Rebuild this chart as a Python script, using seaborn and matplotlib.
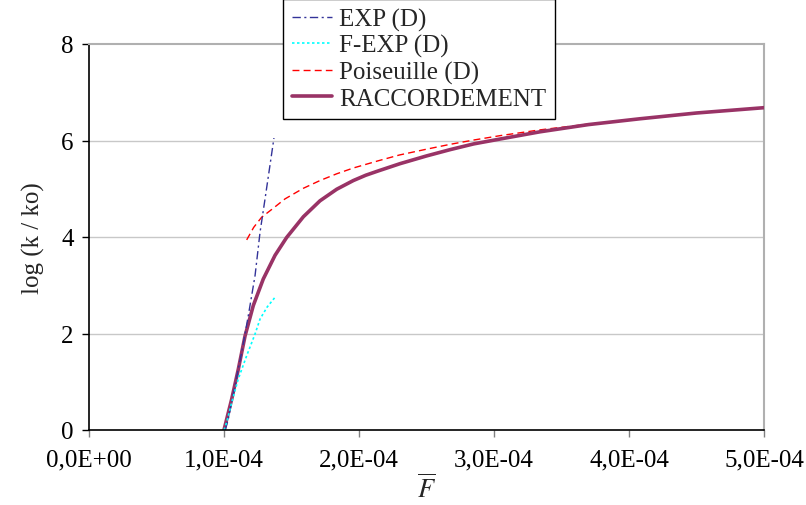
import matplotlib
matplotlib.use("Agg")
import matplotlib.pyplot as plt
import seaborn as sns
import pandas as pd
from matplotlib.ticker import FixedLocator, FixedFormatter

# ---- data (x in units of F-bar, y = log(k/ko)) ----
exp_x = [1.01e-4, 1.032e-4, 1.081e-4, 1.131e-4, 1.18e-4, 1.23e-4, 1.267e-4, 1.304e-4, 1.337e-4, 1.37e-4]
exp_y = [0.0, 0.23, 0.92, 1.61, 2.37, 3.2, 4.10, 4.79, 5.42, 6.05]

fexp_x = [1.0e-4, 1.02e-4, 1.057e-4, 1.106e-4, 1.168e-4, 1.23e-4, 1.267e-4, 1.32e-4, 1.378e-4]
fexp_y = [0.0, 0.16, 0.57, 1.06, 1.54, 1.99, 2.30, 2.55, 2.75]

pois_x = [1.168e-4, 1.22e-4, 1.279e-4, 1.353e-4, 1.452e-4, 1.588e-4, 1.711e-4, 1.835e-4,
          1.958e-4, 2.143e-4, 2.30e-4, 2.5e-4, 2.674e-4, 2.85e-4, 3.044e-4, 3.34e-4, 3.7e-4,
          4.08e-4, 4.5e-4, 5.0e-4]
pois_y = [3.94, 4.20, 4.41, 4.57, 4.79, 5.01, 5.17, 5.31,
          5.43, 5.58, 5.70, 5.82, 5.92, 6.01, 6.10, 6.22, 6.34,
          6.45, 6.57, 6.68]

racc_x = [1.0e-4, 1.057e-4, 1.106e-4, 1.156e-4, 1.217e-4, 1.291e-4, 1.378e-4, 1.464e-4,
          1.588e-4, 1.711e-4, 1.835e-4, 1.958e-4, 2.05e-4, 2.143e-4, 2.304e-4, 2.5e-4,
          2.674e-4, 2.85e-4, 3.044e-4, 3.34e-4, 3.7e-4, 4.08e-4, 4.5e-4, 5.0e-4]
racc_y = [0.0, 0.64, 1.26, 1.95, 2.58, 3.13, 3.62, 3.99,
          4.42, 4.75, 4.99, 5.17, 5.28, 5.37, 5.52, 5.68,
          5.81, 5.93, 6.03, 6.18, 6.33, 6.45, 6.57, 6.68]

x_ticks = [0.0, 1e-4, 2e-4, 3e-4, 4e-4, 5e-4]
x_tick_labels = ["0,0E+00", "1,0E-04", "2,0E-04", "3,0E-04", "4,0E-04", "5,0E-04"]
y_ticks = [0, 2, 4, 6, 8]
y_tick_labels = ["0", "2", "4", "6", "8"]

labels = ["EXP (D)", "F-EXP (D)", "Poiseuille (D)", "RACCORDEMENT"]

sns.set_theme(style="white")
plt.rcParams["font.family"] = ["Liberation Serif", "DejaVu Serif"]
plt.rcParams["mathtext.fontset"] = "stix"

fig = plt.figure(figsize=(8.06, 5.06), dpi=100)
ax = fig.add_axes([89 / 806, 1 - 431 / 506, (764 - 89) / 806, (431 - 45) / 506])

df_exp = pd.DataFrame({"x": exp_x, "y": exp_y})
df_fexp = pd.DataFrame({"x": fexp_x, "y": fexp_y})
df_pois = pd.DataFrame({"x": pois_x, "y": pois_y})
df_racc = pd.DataFrame({"x": racc_x, "y": racc_y})

for yv in [2, 4, 6]:
    ax.axhline(yv, color="#c8c8c8", lw=1.0, zorder=0)

sns.lineplot(data=df_racc, x="x", y="y", ax=ax, color="#993366", lw=2.6,
             label=labels[3], sort=False, zorder=3)
ax.lines[-1].set_solid_joinstyle("round")
sns.lineplot(data=df_pois, x="x", y="y", ax=ax, color="#ff0000", lw=1.0,
             label=labels[2], sort=False, zorder=2)
ax.lines[-1].set_dashes([5, 3])
sns.lineplot(data=df_exp, x="x", y="y", ax=ax, color="#333399", lw=1.0,
             label=labels[0], sort=False, zorder=4)
ax.lines[-1].set_dashes([6, 2.5, 1.5, 2.5])
sns.lineplot(data=df_fexp, x="x", y="y", ax=ax, color="#00ffff", lw=1.2,
             label=labels[1], sort=False, zorder=4)
ax.lines[-1].set_dashes([1.5, 1.5])

ax.set_xlim(0, 5e-4)
ax.set_ylim(0, 8)
ax.xaxis.set_major_locator(FixedLocator(x_ticks))
ax.xaxis.set_major_formatter(FixedFormatter(x_tick_labels))
ax.yaxis.set_major_locator(FixedLocator(y_ticks))
ax.yaxis.set_major_formatter(FixedFormatter(y_tick_labels))
ax.tick_params(axis="both", direction="out", length=5, width=1, color="black",
               labelsize=18, labelcolor="black", pad=6)
ax.tick_params(axis="x", pad=8, color="#808080")
ax.tick_params(axis="y", color="black")
ax.tick_params(bottom=True, left=True)

for s in ["left", "bottom"]:
    ax.spines[s].set_color("black")
    ax.spines[s].set_linewidth(1.2)
for s in ["top", "right"]:
    ax.spines[s].set_color("#b0b0b0")
    ax.spines[s].set_linewidth(1.5)
ax.spines["bottom"].set_zorder(5)

ax.set_xlabel(r"$\overline{F}$", fontsize=19, labelpad=2)
ax.set_ylabel("log (k / ko)", fontsize=18, labelpad=12)

handles, labs = ax.get_legend_handles_labels()
order = [labs.index(l) for l in labels]
leg = ax.legend([handles[i] for i in order], [labs[i] for i in order],
                loc="upper left", bbox_to_anchor=(283 / 806, 1.0),
                bbox_transform=fig.transFigure, fontsize=18,
                frameon=True, fancybox=False, edgecolor="black",
                framealpha=1.0, borderpad=0.35, labelspacing=0.14,
                handlelength=1.6, handletextpad=0.3, borderaxespad=0)
leg.get_frame().set_linewidth(1.0)

fig.savefig("out.png", dpi=100)
